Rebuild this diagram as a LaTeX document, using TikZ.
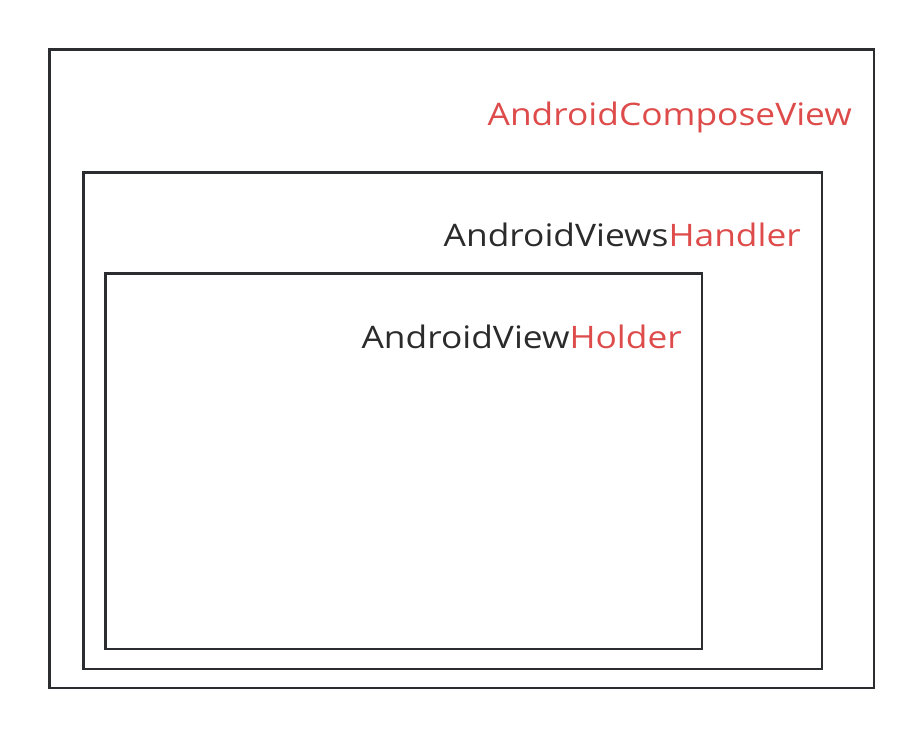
\documentclass[tikz,border=0pt]{standalone}
\usepackage{fontspec}
\setmainfont{Open Sans}[FakeStretch=1.14]
\definecolor{boxgray}{HTML}{2B2D31}
\definecolor{lblred}{HTML}{DE4B4B}
\definecolor{lbldark}{HTML}{2B2B2B}
\begin{document}
\begin{tikzpicture}[x=1pt,y=-1pt,
  box/.style={draw=boxgray,line width=2.6pt},
  lbl/.style={inner sep=0pt,anchor=base east,font=\fontsize{31}{34}\selectfont,text=lbldark}]
\useasboundingbox (0,0) rectangle (924,738);
\coordinate (o1) at (49.5,49.5); \coordinate (o2) at (874,688);
\coordinate (m1) at (83.5,172.5); \coordinate (m2) at (822,669);
\coordinate (i1) at (105.5,273.5); \coordinate (i2) at (702,649);
\draw[box] (o1) rectangle (o2);
\draw[box] (m1) rectangle (m2);
\draw[box] (i1) rectangle (i2);
\node[lbl] (t1) at (852,126) {\textcolor{lblred}{AndroidComposeView}};
\node[lbl] (t2) at (801,247) {AndroidViews\textcolor{lblred}{Handler}};
\node[lbl] (t3) at (682,348) {AndroidView\textcolor{lblred}{Holder}};
\end{tikzpicture}
\end{document}
